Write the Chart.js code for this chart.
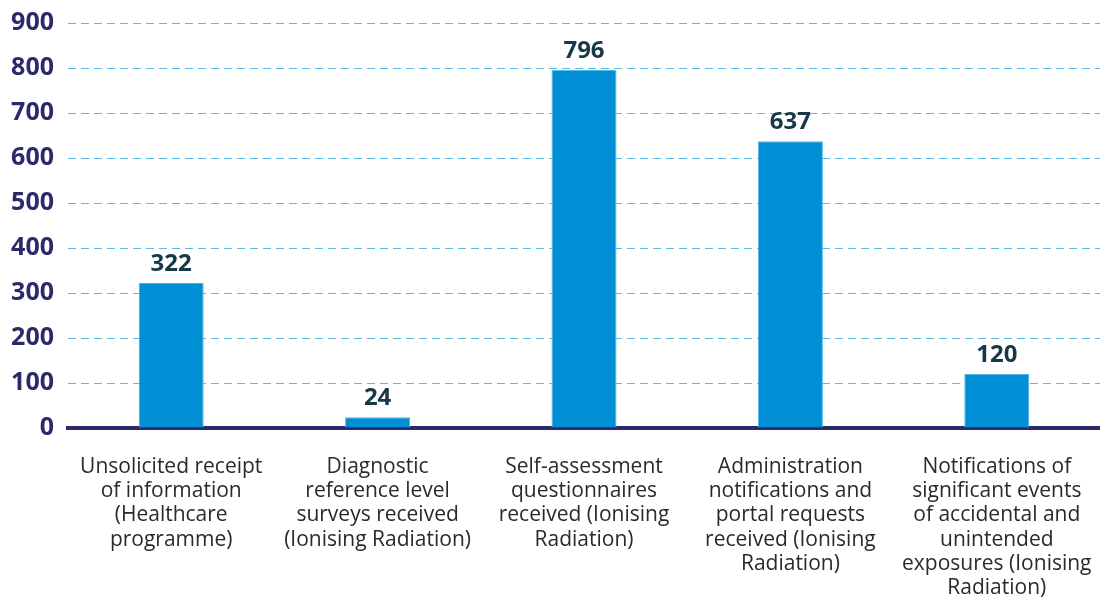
<!DOCTYPE html>
<html>
<head>
<meta charset="utf-8">
<script src="https://cdn.jsdelivr.net/npm/chart.js@4"></script>
<style>
  html, body { margin: 0; padding: 0; background: #fff; }
  #wrap { width: 1100px; height: 597px; }
</style>
</head>
<body>
<div id="wrap"><canvas id="chart"></canvas></div>
<script>
const categories = [
    ["Unsolicited receipt", "of information", "(Healthcare", "programme)"],
    ["Diagnostic", "reference level", "surveys received", "(Ionising Radiation)"],
    ["Self-assessment", "questionnaires", "received (Ionising", "Radiation)"],
    ["Administration", "notifications and", "portal requests", "received (Ionising", "Radiation)"],
    ["Notifications of", "significant events", "of accidental and", "unintended", "exposures (Ionising", "Radiation)"]
];
const counts = [322, 24, 796, 637, 120];
const yTicks = [0, 100, 200, 300, 400, 500, 600, 700, 800, 900];

const navy = '#2b2a6b';
const barBlue = '#008fd5';

// draw the number above each bar
const valueLabels = {
    id: 'valueLabels',
    afterDatasetsDraw(chart) {
        const ctx = chart.ctx;
        const meta = chart.getDatasetMeta(0);
        ctx.save();
        ctx.font = 'bold 24px "Open Sans"';
        ctx.fillStyle = '#163847';
        ctx.textAlign = 'center';
        ctx.textBaseline = 'alphabetic';
        meta.data.forEach((bar, i) => {
            ctx.fillText(counts[i], bar.x, bar.y - 12);
        });
        ctx.restore();
    }
};

const ctx = document.getElementById('chart').getContext('2d');
new Chart(ctx, {
    type: 'bar',
    data: {
        labels: categories,
        datasets: [{
            data: counts,
            backgroundColor: barBlue,
            borderColor: '#4fb3e3',
            borderWidth: 1,
            barPercentage: 0.315,
            categoryPercentage: 1
        }]
    },
    options: {
        responsive: true,
        maintainAspectRatio: false,
        animation: false,
        layout: { padding: { top: 0, right: 0, left: 4, bottom: 0 } },
        plugins: {
            legend: { display: false },
            tooltip: { enabled: false }
        },
        scales: {
            x: {
                afterFit: (scale) => {
                    scale.height = 169;
                    scale.paddingLeft = 0;
                    scale.paddingRight = 0;
                },
                grid: { display: false, drawTicks: false },
                border: { display: true, color: navy, width: 4 },
                ticks: {
                    color: '#2a2a2a',
                    font: { family: '"Open Sans"', size: 21, lineHeight: 1.15 },
                    maxRotation: 0,
                    autoSkip: false,
                    padding: 27
                }
            },
            y: {
                min: 0,
                max: 900,
                afterBuildTicks: (scale) => {
                    scale.ticks = yTicks.map(v => ({ value: v }));
                },
                afterFit: (scale) => {
                    scale.width = 64;
                    scale.paddingTop = 23;
                },
                grid: {
                    color: '#5bbbe8',
                    lineWidth: 1,
                    drawTicks: false
                },
                border: { display: false, dash: [8, 5] },
                ticks: {
                    color: navy,
                    font: { family: '"Open Sans"', size: 25, weight: 'bold' },
                    padding: 14
                }
            }
        }
    },
    plugins: [valueLabels]
});
</script>
</body>
</html>
